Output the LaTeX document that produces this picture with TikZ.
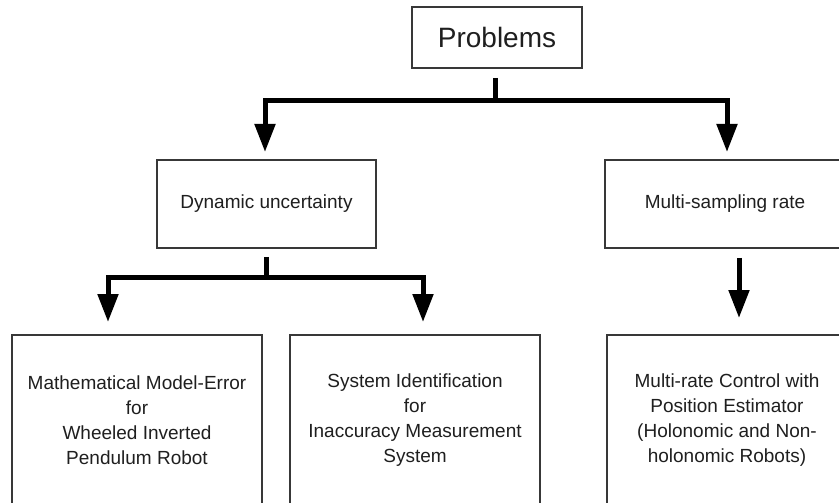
\documentclass[tikz,border=0pt]{standalone}
\usepackage{fontspec}
\setmainfont{Liberation Sans}
\usetikzlibrary{arrows.meta}
\begin{document}
\begin{tikzpicture}[x=1pt,y=-1pt,
  box/.style={draw=black!78,line width=1.8pt,fill=white,inner sep=0pt,
    align=center,text=black!88,font=\fontsize{19}{25}\selectfont},
  conn/.style={line width=5pt,-{Triangle[length=28pt,width=20pt]}},
  stem/.style={line width=5pt}]
\useasboundingbox (0,0) rectangle (839,503);
\clip (0,0) rectangle (839,503);

% boxes
\node[box,minimum width=170,minimum height=61,
  font=\fontsize{28}{32}\selectfont] (prob) at (497,37.5) {Problems};
\node[box,minimum width=219,minimum height=88] (dyn) at (266.5,204)
  {Dynamic uncertainty};
\node[box,minimum width=240,minimum height=88] (ms) at (725,204)
  {Multi-sampling rate};
\node[box,minimum width=250,minimum height=170] (b1) at (137,420)
  {Mathematical Model-Error\\for\\Wheeled Inverted\\Pendulum Robot};
\node[box,minimum width=250,minimum height=170] (b2) at (415,420)
  {System Identification\\for\\Inaccuracy Measurement\\System};
\node[box,minimum width=240,minimum height=170] (b3) at (727,420)
  {Multi-rate Control with\\Position Estimator\\(Holonomic and Non-\\holonomic Robots)};

% junctions and arrow ends
\coordinate (j1) at (495,101);
\coordinate (t1) at (265,152);
\coordinate (t2) at (727,152);
\coordinate (j2) at (266,277);
\coordinate (t3) at (108,322);
\coordinate (t4) at (423,322);
\coordinate (t5) at (739,318);

% first level
\draw[stem] (prob.south -| j1) ++(0,9) -- (j1);
\draw[conn] (j1) -| (t1);
\draw[conn] (j1) -| (t2);

% second level
\draw[stem] (dyn.south -| j2) ++(0,8) -- (j2);
\draw[conn] (j2) -| (t3);
\draw[conn] (j2) -| (t4);
\draw[conn] (ms.south -| t5) ++(0,9) -- (t5);
\end{tikzpicture}
\end{document}
